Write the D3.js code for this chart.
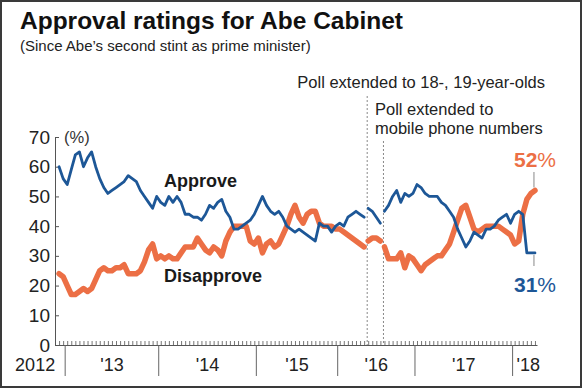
<!DOCTYPE html>
<html>
<head>
<meta charset="utf-8">
<script src="https://cdn.jsdelivr.net/npm/d3@7/dist/d3.min.js"></script>
<style>
  body { margin: 0; background: #fff; }
  svg { display: block; font-family: "Liberation Sans", Arial, sans-serif; }
</style>
</head>
<body>
<svg id="chart" width="582" height="388"></svg>
<script>
// poll-by-poll ratings (%), Dec 2012 to Feb 2018
const approve = [
  60, 56, 54, 59, 64, 65, 60, 63, 65, 60, 56, 53, 51, 52, 53, 54, 55, 57, 56, 55,
  52, 50, 48, 46, 50, 48, 47, 50, 48, 50, 48, 44, 44, 43, 43, 42, 44, 47, 46, 48,
  49, 45, 43, 39, 39, 40, 41, 42, 44, 47, 50, 47, 45, 44, 45, 43, 40, 39, 38, 39,
  38, 37, 36, 35, 41, 40, 40, 38, 40, 41, 40, 43, 44, 45, 44, 43, 46, 45, 43, 41,
  45, 47, 50, 52, 48, 51, 50, 51, 54, 53, 51, 50, 50, 50, 48, 47, 45, 43, 39, 36,
  33, 35, 38, 37, 36, 39, 39, 40, 42, 43, 44, 41, 44, 45, 44, 31, 31, 31
];
const disapprove = [
  24, 23, 20, 17, 17, 18, 19, 18, 19, 22, 25, 26, 25, 25, 26, 26, 27, 24, 24, 24,
  25, 28, 32, 34, 29, 30, 29, 30, 29, 29, 31, 33, 33, 33, 36, 34, 32, 31, 33, 32,
  30, 35, 38, 40, 40, 40, 40, 35, 34, 36, 31, 34, 35, 33, 34, 37, 40, 44, 47, 43,
  41, 44, 45, 45, 41, 40, 40, 40, 39, 39, 38, 37, 36, 35, 34, 33, 35, 36, 36, 35,
  33, 29, 29, 29, 31, 26, 30, 29, 27, 25, 27, 28, 29, 30, 30, 32, 34, 38, 42, 46,
  47, 43, 39, 38, 39, 40, 40, 40, 40, 39, 38, 37, 34, 35, 44, 49, 51, 52
];

// first poll of each calendar year
const yearLabels = ['2012', "'13", "'14", "'15", "'16", "'17", "'18"];
const yearStart = [0, 2, 25, 49, 69, 88, 112];

// first poll after each change of survey method
const methodChange = [76, 80];
const methodNotes = [
  ['Poll extended to 18-, 19-year-olds'],
  ['Poll extended to', 'mobile phone numbers']
];

const yTicks = [0, 10, 20, 30, 40, 50, 60, 70];

const BLUE = '#1d5797';
const ORANGE = '#ec6f45';
const N = approve.length;

const svg = d3.select('#chart');

// frame round the graphic
svg.append('rect')
  .attr('x', 1).attr('y', 1)
  .attr('width', 580).attr('height', 386)
  .attr('fill', '#fff')
  .attr('stroke', '#3a3a3a')
  .attr('stroke-width', 2);

// title
svg.append('text')
  .attr('x', 20).attr('y', 29)
  .attr('font-size', 24.5).attr('font-weight', 'bold')
  .attr('fill', '#111')
  .text('Approval ratings for Abe Cabinet');

svg.append('text')
  .attr('x', 20).attr('y', 51)
  .attr('font-size', 15)
  .attr('fill', '#222')
  .text('(Since Abe\u2019s second stint as prime minister)');

// scales
const x = d3.scaleLinear().domain([-1, N - 0.5]).range([55, 537]);
const y = d3.scaleLinear().domain([0, 70]).range([345, 137]);

// y axis, ticks point inwards
const yAxis = svg.append('g')
  .attr('transform', `translate(${x(-1)},0)`)
  .call(d3.axisLeft(y).tickValues(yTicks).tickSizeInner(-4).tickSizeOuter(0).tickPadding(5));
yAxis.selectAll('path, line').attr('stroke', '#555');
yAxis.selectAll('text')
  .attr('font-size', 19).attr('fill', '#222')
  .attr('font-family', '"Liberation Sans", Arial, sans-serif');

svg.append('text')
  .attr('x', 64).attr('y', 143)
  .attr('font-size', 16.5).attr('fill', '#333')
  .text('(%)');

// x axis, one small tick per poll
const xAxis = svg.append('g')
  .attr('transform', `translate(0,${y(0)})`)
  .call(d3.axisBottom(x).tickValues(d3.range(N)).tickSizeInner(-4).tickSizeOuter(0).tickFormat(''));
xAxis.selectAll('path').attr('stroke', '#555');
xAxis.selectAll('line').attr('stroke', '#777');

// year separators and labels
const dividers = yearStart.slice(1).map(i => x(i - 0.5));
svg.append('g').selectAll('line')
  .data(dividers)
  .enter()
  .append('line')
  .attr('x1', d => d).attr('x2', d => d)
  .attr('y1', y(0)).attr('y2', y(0) + 31)
  .attr('stroke', '#666');

svg.append('g').selectAll('text')
  .data(yearLabels)
  .enter()
  .append('text')
  .attr('x', (d, i) => {
    if (i === 0) return dividers[0] - 10;
    if (i === yearLabels.length - 1) return dividers[i - 1] + 4;
    return (dividers[i - 1] + dividers[i]) / 2;
  })
  .attr('y', y(0) + 26)
  .attr('text-anchor', (d, i) => i === 0 ? 'end' : (i === yearLabels.length - 1 ? 'start' : 'middle'))
  .attr('font-size', 18).attr('fill', '#222')
  .text(d => d);

// method change markers
const noteTop = [96, 141];
methodChange.forEach((idx, k) => {
  svg.append('line')
    .attr('x1', x(idx) - 1).attr('x2', x(idx) - 1)
    .attr('y1', noteTop[k]).attr('y2', y(0))
    .attr('stroke', '#888')
    .attr('stroke-dasharray', '2,2');
});

svg.append('text')
  .attr('x', 545).attr('y', 88)
  .attr('text-anchor', 'end')
  .attr('font-size', 16.5).attr('fill', '#222')
  .text(methodNotes[0][0]);

svg.append('text')
  .attr('x', 375).attr('y', 115)
  .attr('font-size', 16.5).attr('fill', '#222')
  .selectAll('tspan')
  .data(methodNotes[1])
  .enter()
  .append('tspan')
  .attr('x', 375)
  .attr('dy', (d, i) => i === 0 ? 0 : 19)
  .text(d => d);

// lines, split where the survey method changed
const bounds = [0, ...methodChange, N];
const segments = d3.range(bounds.length - 1).map(k => d3.range(bounds[k], bounds[k + 1]));

function drawSeries(values, color, width) {
  const line = d3.line()
    .x(i => x(i))
    .y(i => y(values[i]));
  svg.append('g').selectAll('path')
    .data(segments)
    .enter()
    .append('path')
    .attr('d', line)
    .attr('fill', 'none')
    .attr('stroke', color)
    .attr('stroke-width', width)
    .attr('stroke-linejoin', 'round')
    .attr('stroke-linecap', 'round');
}

drawSeries(disapprove, ORANGE, 5.5);
drawSeries(approve, BLUE, 2.8);

// series labels
svg.append('text')
  .attr('x', 164).attr('y', 187)
  .attr('font-size', 18).attr('font-weight', 'bold').attr('fill', '#1a1a1a')
  .text('Approve');

svg.append('text')
  .attr('x', 164).attr('y', 282)
  .attr('font-size', 18).attr('font-weight', 'bold').attr('fill', '#1a1a1a')
  .text('Disapprove');

// latest values
const last = N - 1;
svg.append('line')
  .attr('x1', x(last) - 1).attr('x2', x(last) - 1)
  .attr('y1', 172).attr('y2', y(disapprove[last]) - 3)
  .attr('stroke', '#888');
svg.append('line')
  .attr('x1', x(last) - 1).attr('x2', x(last) - 1)
  .attr('y1', y(approve[last]) + 2).attr('y2', 266)
  .attr('stroke', '#888');

function endLabel(value, color, yPos) {
  const t = svg.append('text')
    .attr('x', 514).attr('y', yPos)
    .attr('font-size', 21).attr('fill', color);
  t.append('tspan').attr('font-weight', 'bold').text(value);
  t.append('tspan').text('%');
}

endLabel(disapprove[last], ORANGE, 167);
endLabel(approve[last], BLUE, 292);
</script>
</body>
</html>
